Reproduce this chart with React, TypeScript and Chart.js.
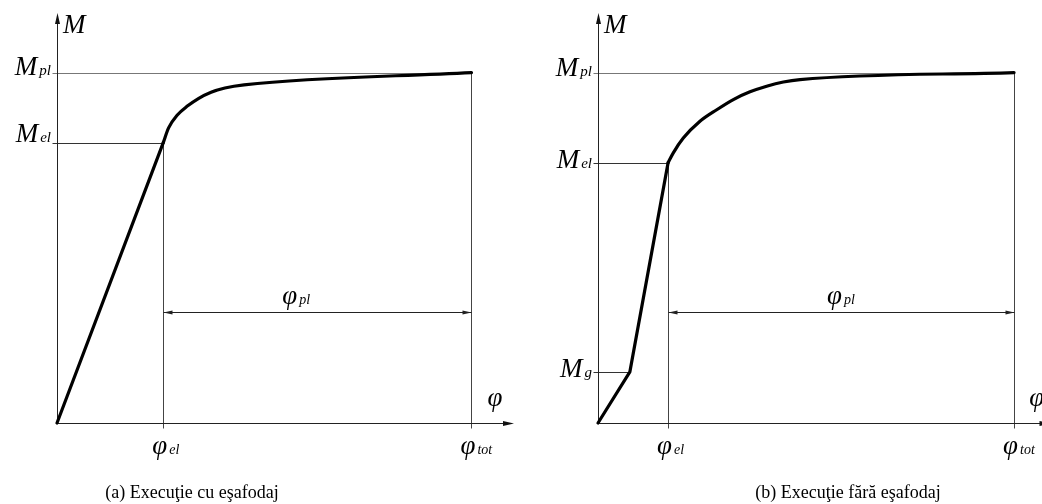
import { useEffect, useRef } from "react";
import { Chart, registerables } from "chart.js";

Chart.register(...registerables);

// ---------- panel (a): execution with shoring ----------
const A_PHI_EL = 1.0;
const A_PHI_TOT = 3.9;
const A_M_EL = 0.8;
const A_M_PL = 1.0;

const phiA_elastic = [0, A_PHI_EL];
const mA_elastic = [0, A_M_EL];
const phiA_plastic = [A_PHI_EL, 1.05, 1.13, 1.23, 1.33, 1.45, 1.58, 1.76, A_PHI_TOT];
const mA_plastic = [A_M_EL, 0.842, 0.878, 0.905, 0.926, 0.944, 0.956, 0.965, A_M_PL];

// ---------- panel (b): execution without shoring ----------
const B_PHI_G = 0.3;
const B_PHI_EL = 0.66;
const B_PHI_TOT = 3.917;
const B_M_G = 0.146;
const B_M_EL = 0.743;
const B_M_PL = 1.0;

const phiB_elastic = [0, B_PHI_G, B_PHI_EL];
const mB_elastic = [0, B_M_G, B_M_EL];
const phiB_plastic = [B_PHI_EL, 0.709, 0.803, 0.96, 1.118, 1.274, 1.431, 1.588, 1.745, 1.902, B_PHI_TOT];
const mB_plastic = [B_M_EL, 0.771, 0.813, 0.861, 0.894, 0.923, 0.945, 0.961, 0.973, 0.98, B_M_PL];

// level of the plastic-rotation dimension line and its label
const DIM_LEVEL = 0.317;
const DIM_LABEL_LEVEL = 0.34;

const Y_MAX = 1.17;

const CANVAS_W = 521;
const CANVAS_H = 504;

const SERIF = "'Liberation Serif', 'Times New Roman', serif";

type HLine = { m: number; phi: number; sub: string; dy: number; color: string };
type VLine = { phi: number; m: number; sub: string };

type PanelSpec = {
  phiElastic: number[];
  mElastic: number[];
  phiPlastic: number[];
  mPlastic: number[];
  hLines: HLine[];
  vLines: VLine[];
  dimFrom: number;
  dimTo: number;
  dimLabelAt: number;
  phiAxisLabelAt: number;
  xMax: number;
  axisEnd: number;
  padLeft: number;
  padRight: number;
  caption: string;
  captionX: number;
};

const panelA: PanelSpec = {
  phiElastic: phiA_elastic,
  mElastic: mA_elastic,
  phiPlastic: phiA_plastic,
  mPlastic: mA_plastic,
  hLines: [
    { m: A_M_PL, phi: A_PHI_TOT, sub: "pl", dy: 2, color: "#777" },
    { m: A_M_EL, phi: A_PHI_EL, sub: "el", dy: -1, color: "#333" },
  ],
  vLines: [
    { phi: A_PHI_EL, m: A_M_EL, sub: "el" },
    { phi: A_PHI_TOT, m: A_M_PL, sub: "tot" },
  ],
  dimFrom: A_PHI_EL,
  dimTo: A_PHI_TOT,
  dimLabelAt: 2.12,
  phiAxisLabelAt: 4.12,
  xMax: 4.3,
  axisEnd: 4.3,
  padLeft: 57,
  padRight: 7,
  caption: "(a) Execuţie cu eşafodaj",
  captionX: 192,
};

const panelB: PanelSpec = {
  phiElastic: phiB_elastic,
  mElastic: mB_elastic,
  phiPlastic: phiB_plastic,
  mPlastic: mB_plastic,
  hLines: [
    { m: B_M_PL, phi: B_PHI_TOT, sub: "pl", dy: 3, color: "#777" },
    { m: B_M_EL, phi: B_PHI_EL, sub: "el", dy: 5, color: "#333" },
    { m: B_M_G, phi: B_PHI_G, sub: "g", dy: 5, color: "#333" },
  ],
  vLines: [
    { phi: B_PHI_EL, m: B_M_EL, sub: "el" },
    { phi: B_PHI_TOT, m: B_M_PL, sub: "tot" },
  ],
  dimFrom: B_PHI_EL,
  dimTo: B_PHI_TOT,
  dimLabelAt: 2.156,
  phiAxisLabelAt: 4.13,
  xMax: 4.18,
  axisEnd: 4.26,
  padLeft: 77,
  padRight: 0,
  caption: "(b) Execuţie fără eşafodaj",
  captionX: 327,
};

// text with an italic subscript, anchored left or right
function drawSubscripted(
  ctx: CanvasRenderingContext2D,
  main: string,
  sub: string,
  x: number,
  y: number,
  align: "left" | "right" | "center",
  mainSize: number,
  subSize: number,
  subDy: number
) {
  const mainFont = `italic ${mainSize}px ${SERIF}`;
  const subFont = `italic ${subSize}px ${SERIF}`;
  ctx.font = mainFont;
  const w1 = ctx.measureText(main).width;
  ctx.font = subFont;
  const w2 = ctx.measureText(sub).width;
  const gap = 2;
  const total = w1 + gap + w2;
  let x0 = x;
  if (align === "right") x0 = x - total;
  if (align === "center") x0 = x - total / 2;
  ctx.textAlign = "left";
  ctx.textBaseline = "alphabetic";
  ctx.font = mainFont;
  ctx.fillText(main, x0, y);
  ctx.font = subFont;
  ctx.fillText(sub, x0 + w1 + gap, y + subDy);
}

function arrowHead(
  ctx: CanvasRenderingContext2D,
  tipX: number,
  tipY: number,
  dirX: number,
  dirY: number,
  len: number,
  half: number
) {
  const bx = tipX - dirX * len;
  const by = tipY - dirY * len;
  ctx.beginPath();
  ctx.moveTo(tipX, tipY);
  ctx.lineTo(bx - dirY * half, by + dirX * half);
  ctx.lineTo(bx + dirY * half, by - dirX * half);
  ctx.closePath();
  ctx.fill();
}

function makeDiagramPlugin(spec: PanelSpec) {
  return {
    id: "momentRotationDiagram",
    beforeDatasetsDraw(chart: Chart) {
      const ctx = chart.ctx;
      const xs = chart.scales.x;
      const ys = chart.scales.y;
      const px = (v: number) => Math.round(xs.getPixelForValue(v)) + 0.5;
      const py = (v: number) => Math.round(ys.getPixelForValue(v)) + 0.5;
      const ox = px(0);
      const oy = py(0);
      const xEnd = xs.getPixelForValue(spec.axisEnd);
      const yTop = ys.getPixelForValue(Y_MAX);

      ctx.save();
      ctx.lineWidth = 1;

      // reference lines for moments
      spec.hLines.forEach((h) => {
        ctx.strokeStyle = h.color;
        ctx.beginPath();
        ctx.moveTo(ox - 5, py(h.m));
        ctx.lineTo(px(h.phi), py(h.m));
        ctx.stroke();
      });

      // reference lines for rotations
      ctx.strokeStyle = "#444";
      spec.vLines.forEach((v) => {
        ctx.beginPath();
        ctx.moveTo(px(v.phi), py(v.m));
        ctx.lineTo(px(v.phi), oy + 5);
        ctx.stroke();
      });

      // plastic rotation dimension line
      ctx.strokeStyle = "#222";
      ctx.fillStyle = "#222";
      const dy = py(DIM_LEVEL);
      const d0 = px(spec.dimFrom);
      const d1 = px(spec.dimTo);
      ctx.beginPath();
      ctx.moveTo(d0, dy);
      ctx.lineTo(d1, dy);
      ctx.stroke();
      arrowHead(ctx, d0, dy, -1, 0, 9, 2);
      arrowHead(ctx, d1, dy, 1, 0, 9, 2);

      // axes with arrows
      ctx.strokeStyle = "#222";
      ctx.fillStyle = "#111";
      ctx.beginPath();
      ctx.moveTo(ox, oy);
      ctx.lineTo(xEnd - 6, oy);
      ctx.moveTo(ox, oy);
      ctx.lineTo(ox, yTop + 6);
      ctx.stroke();
      arrowHead(ctx, xEnd, oy, 1, 0, 11, 2.5);
      arrowHead(ctx, ox, yTop, 0, -1, 11, 2.5);

      ctx.restore();
    },
    afterDatasetsDraw(chart: Chart) {
      const ctx = chart.ctx;
      const xs = chart.scales.x;
      const ys = chart.scales.y;
      const px = (v: number) => xs.getPixelForValue(v);
      const py = (v: number) => ys.getPixelForValue(v);
      const ox = px(0);
      const oy = py(0);
      const yTop = py(Y_MAX);

      ctx.save();
      ctx.fillStyle = "#000";

      // axis names
      ctx.font = `italic 27px ${SERIF}`;
      ctx.textAlign = "left";
      ctx.textBaseline = "alphabetic";
      ctx.fillText("M", ox + 6, yTop + 20);
      ctx.font = `italic 27px ${SERIF}`;
      ctx.textAlign = "center";
      ctx.fillText("φ", px(spec.phiAxisLabelAt), oy - 17);

      // moment labels
      spec.hLines.forEach((h) => {
        drawSubscripted(ctx, "M", h.sub, ox - 6, py(h.m) + h.dy, "right", 27, 15, 0);
      });

      // rotation labels
      spec.vLines.forEach((v) => {
        drawSubscripted(ctx, "φ", v.sub, px(v.phi) - 11, oy + 31, "left", 27, 14, 0);
      });

      // plastic rotation label
      drawSubscripted(ctx, "φ", "pl", px(spec.dimLabelAt), py(DIM_LABEL_LEVEL), "left", 27, 14, 0);

      // caption
      ctx.font = `18px ${SERIF}`;
      ctx.textAlign = "center";
      ctx.fillText(spec.caption, spec.captionX, 498);

      ctx.restore();
    },
  };
}

function Panel({ spec, left }: { spec: PanelSpec; left: number }) {
  const ref = useRef<HTMLCanvasElement | null>(null);

  useEffect(() => {
    const canvas = ref.current;
    if (!canvas) return;
    const curveStyle = {
      borderColor: "#000",
      borderWidth: 3.2,
      borderCapStyle: "round" as const,
      borderJoinStyle: "round" as const,
      pointRadius: 0,
      fill: false,
      clip: false as const,
    };
    const chart = new Chart(canvas, {
      type: "line",
      data: {
        datasets: [
          {
            ...curveStyle,
            label: "elastic",
            tension: 0,
            data: spec.phiElastic.map((x, i) => ({ x, y: spec.mElastic[i] })),
          },
          {
            ...curveStyle,
            label: "plastic",
            cubicInterpolationMode: "monotone",
            data: spec.phiPlastic.map((x, i) => ({ x, y: spec.mPlastic[i] })),
          },
        ],
      },
      options: {
        responsive: false,
        animation: false,
        devicePixelRatio: 1,
        layout: {
          padding: { left: spec.padLeft, right: spec.padRight, top: 13, bottom: 81 },
        },
        plugins: {
          legend: { display: false },
          tooltip: { enabled: false },
        },
        scales: {
          x: { type: "linear", min: 0, max: spec.xMax, display: false },
          y: { type: "linear", min: 0, max: Y_MAX, display: false },
        },
      },
      plugins: [makeDiagramPlugin(spec)],
    });
    return () => chart.destroy();
  }, [spec]);

  return (
    <canvas
      ref={ref}
      width={CANVAS_W}
      height={CANVAS_H}
      style={{ position: "absolute", left, top: 0, width: CANVAS_W, height: CANVAS_H }}
    />
  );
}

export default function App() {
  return (
    <div
      style={{
        position: "fixed",
        left: 0,
        top: 0,
        width: 1042,
        height: 504,
        background: "#fff",
        overflow: "hidden",
      }}
    >
      <Panel spec={panelA} left={0} />
      <Panel spec={panelB} left={521} />
    </div>
  );
}
